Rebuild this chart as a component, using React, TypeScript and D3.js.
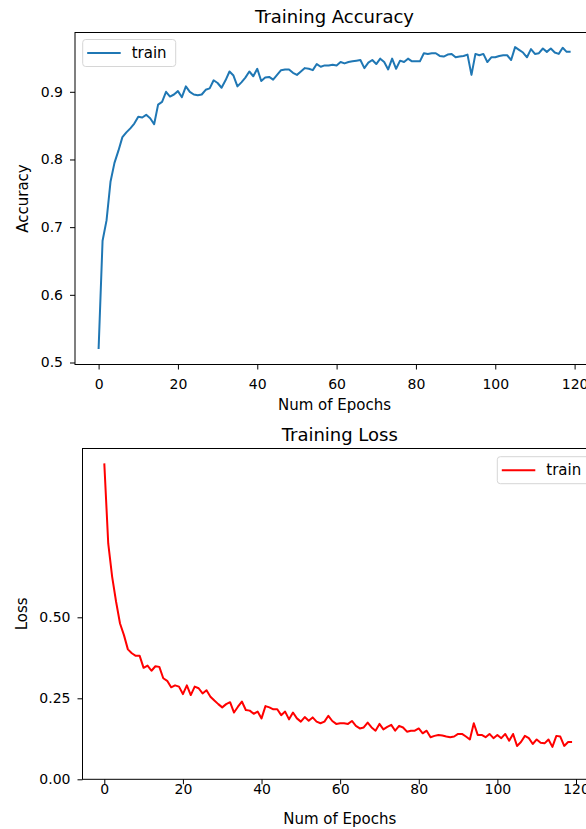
import React, { useRef, useEffect } from 'react';
import * as d3 from 'd3';

// values (epochs 0..119)
const accuracy = [
  0.52, 0.68, 0.71, 0.767, 0.795, 0.813, 0.833, 0.84, 0.846, 0.853,
  0.863, 0.862, 0.866, 0.861, 0.852, 0.881, 0.885, 0.9, 0.893, 0.896,
  0.901, 0.892, 0.908, 0.9, 0.896, 0.895, 0.896, 0.903, 0.905, 0.917,
  0.913, 0.906, 0.917, 0.93, 0.924, 0.908, 0.914, 0.921, 0.93, 0.923,
  0.934, 0.916, 0.921, 0.922, 0.918, 0.925, 0.932, 0.933, 0.933, 0.928,
  0.925, 0.93, 0.935, 0.934, 0.932, 0.941, 0.937, 0.939, 0.939, 0.94,
  0.939, 0.944, 0.942, 0.944, 0.945, 0.946, 0.947, 0.935, 0.943, 0.947,
  0.941, 0.949, 0.944, 0.933, 0.949, 0.934, 0.946, 0.944, 0.949, 0.945,
  0.945, 0.945, 0.957, 0.956, 0.957, 0.957, 0.953, 0.952, 0.955, 0.956,
  0.951, 0.952, 0.953, 0.955, 0.925, 0.956, 0.954, 0.956, 0.944, 0.951,
  0.951, 0.953, 0.954, 0.954, 0.947, 0.966, 0.962, 0.958, 0.951, 0.963,
  0.956, 0.957, 0.964, 0.959, 0.964, 0.958, 0.956, 0.965, 0.959, 0.959,
];

const loss = [
  0.975, 0.728, 0.625, 0.548, 0.481, 0.445, 0.401, 0.389, 0.381, 0.381,
  0.344, 0.351, 0.335, 0.349, 0.347, 0.312, 0.304, 0.284, 0.29, 0.286,
  0.263, 0.29, 0.26, 0.286, 0.281, 0.265, 0.275, 0.255, 0.243, 0.232,
  0.222, 0.232, 0.238, 0.206, 0.224, 0.24, 0.214, 0.212, 0.202, 0.209,
  0.188, 0.226, 0.222, 0.216, 0.216, 0.198, 0.209, 0.185, 0.206, 0.188,
  0.178, 0.192, 0.181, 0.191, 0.178, 0.173, 0.178, 0.196, 0.18, 0.171,
  0.173, 0.173, 0.171, 0.18, 0.165, 0.157, 0.16, 0.175, 0.16, 0.15,
  0.171, 0.154, 0.162, 0.168, 0.15, 0.165, 0.16, 0.147, 0.15, 0.15,
  0.157, 0.142, 0.15, 0.13, 0.134, 0.137, 0.135, 0.132, 0.13, 0.132,
  0.14, 0.14, 0.132, 0.123, 0.173, 0.137, 0.137, 0.13, 0.14, 0.127,
  0.137, 0.127, 0.14, 0.119, 0.14, 0.103, 0.115, 0.134, 0.127, 0.109,
  0.123, 0.113, 0.111, 0.123, 0.1, 0.134, 0.132, 0.103, 0.115, 0.115,
];

const epochTicks = [0, 20, 40, 60, 80, 100, 120];
const accuracyTicks = [0.5, 0.6, 0.7, 0.8, 0.9];
const lossTicks = [0, 0.25, 0.5];
const seriesName = 'train';

const FONT = 'DejaVu Sans, sans-serif';

const drawPanel = (svg, opts) => {
  const { values, color, title, ylabel, yTicks, yFormat, frame, x, y, tickBaseline, xlabelY, titleY, legend } = opts;
  const g = svg.append('g');

  // frame (right side runs off the canvas like the reference)
  g.append('rect')
    .attr('x', frame.left)
    .attr('y', frame.top)
    .attr('width', frame.right - frame.left)
    .attr('height', frame.bottom - frame.top)
    .attr('fill', 'none')
    .attr('stroke', '#000')
    .attr('stroke-width', 1);

  // line
  const line = d3.line()
    .x((d, i) => x(i))
    .y(d => y(d));
  g.append('path')
    .datum(values)
    .attr('d', line)
    .attr('fill', 'none')
    .attr('stroke', color)
    .attr('stroke-width', 2)
    .attr('stroke-linejoin', 'round');

  // x axis
  const xAxis = g.append('g')
    .attr('transform', `translate(0,${frame.bottom})`)
    .call(d3.axisBottom(x).tickValues(epochTicks).tickSize(5).tickPadding(tickBaseline - frame.bottom - 5 - 9.9));
  xAxis.select('.domain').remove();
  xAxis.selectAll('text').attr('font-family', FONT).attr('font-size', 14).attr('fill', '#000');

  // y axis
  const yAxis = g.append('g')
    .attr('transform', `translate(${frame.left},0)`)
    .call(d3.axisLeft(y).tickValues(yTicks).tickFormat(yFormat).tickSize(5).tickPadding(7));
  yAxis.select('.domain').remove();
  yAxis.selectAll('text').attr('font-family', FONT).attr('font-size', 14).attr('fill', '#000');

  const cx = (frame.left + frame.right) / 2;
  g.append('text')
    .attr('x', cx)
    .attr('y', titleY)
    .attr('text-anchor', 'middle')
    .attr('font-family', FONT)
    .attr('font-size', 18)
    .text(title);

  g.append('text')
    .attr('x', cx)
    .attr('y', xlabelY)
    .attr('text-anchor', 'middle')
    .attr('font-family', FONT)
    .attr('font-size', 15)
    .text('Num of Epochs');

  const cy = (frame.top + frame.bottom) / 2;
  g.append('text')
    .attr('transform', `translate(${legend.ylabelX},${cy}) rotate(-90)`)
    .attr('text-anchor', 'middle')
    .attr('font-family', FONT)
    .attr('font-size', 15)
    .text(ylabel);

  // legend
  const lg = g.append('g').attr('transform', `translate(${legend.x},${legend.y})`);
  lg.append('rect')
    .attr('width', 93)
    .attr('height', 27)
    .attr('rx', 3)
    .attr('fill', '#fff')
    .attr('fill-opacity', 0.8)
    .attr('stroke', '#d6d6d6');
  lg.append('line')
    .attr('x1', 4.5).attr('x2', 38)
    .attr('y1', 13.5).attr('y2', 13.5)
    .attr('stroke', color)
    .attr('stroke-width', 2);
  lg.append('text')
    .attr('x', 49)
    .attr('y', 18.5)
    .attr('font-family', FONT)
    .attr('font-size', 15)
    .text(seriesName);
};

const TrainingCharts = () => {
  const ref = useRef(null);

  useEffect(() => {
    if (!ref.current) return;
    const svg = d3.select(ref.current);
    svg.selectAll('*').remove();

    // Training Accuracy
    drawPanel(svg, {
      values: accuracy,
      color: '#1f77b4',
      title: 'Training Accuracy',
      ylabel: 'Accuracy',
      yTicks: accuracyTicks,
      yFormat: d3.format('.1f'),
      frame: { left: 75, right: 594, top: 32.5, bottom: 364.5 },
      x: d3.scaleLinear().domain([0, 120]).range([98.6, 574.6]),
      y: d3.scaleLinear().domain([0.5, 0.9]).range([362.5, 91.8]),
      tickBaseline: 389,
      xlabelY: 410,
      titleY: 23,
      legend: { x: 82.7, y: 39.5, ylabelX: 28 },
    });

    // Training Loss
    drawPanel(svg, {
      values: loss,
      color: '#ff0000',
      title: 'Training Loss',
      ylabel: 'Loss',
      yTicks: lossTicks,
      yFormat: d3.format('.2f'),
      frame: { left: 82.5, right: 597, top: 448.5, bottom: 779.3 },
      x: d3.scaleLinear().domain([0, 120]).range([104.3, 576]),
      y: d3.scaleLinear().domain([0, 0.5]).range([779.3, 617.3]),
      tickBaseline: 794,
      xlabelY: 824,
      titleY: 441,
      legend: { x: 497.3, y: 456.7, ylabelX: 27 },
    });
  }, []);

  return (
    <svg
      ref={ref}
      width={586}
      height={829}
      style={{ position: 'absolute', left: 0, top: 0, background: '#fff' }}
    />
  );
};

export default function App() {
  return <TrainingCharts />;
}
